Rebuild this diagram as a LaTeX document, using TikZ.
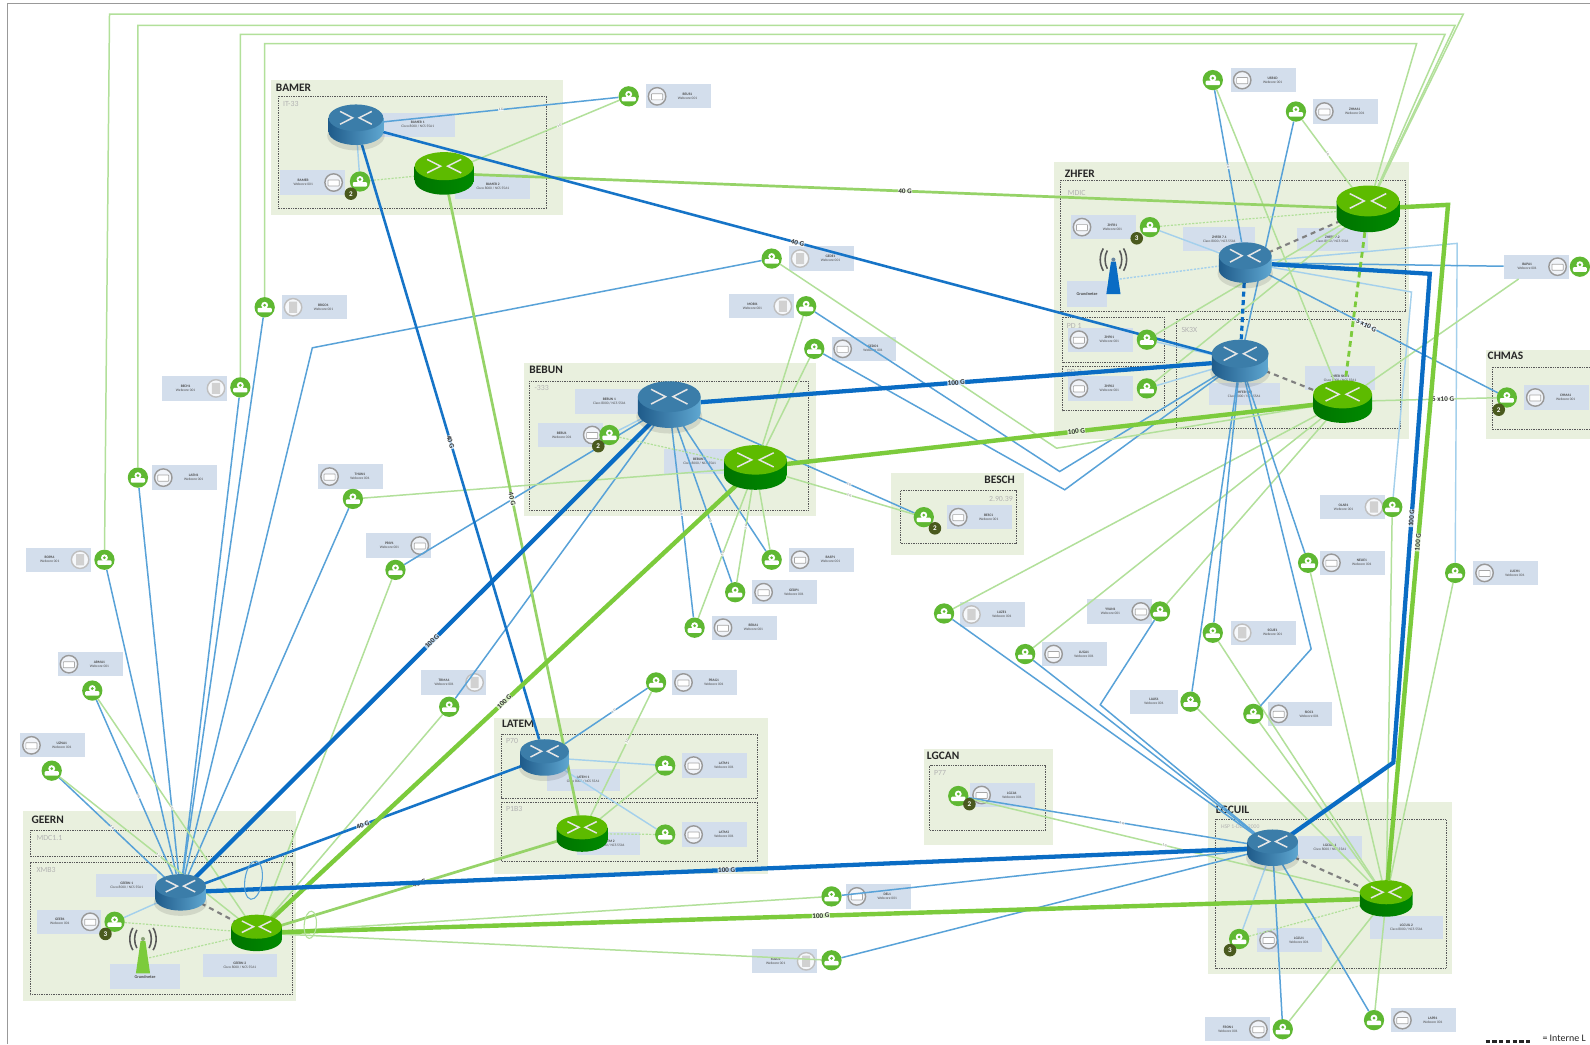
\documentclass[tikz,border=0pt]{standalone}
\usepackage{fontspec}
\setmainfont{Carlito}
\usetikzlibrary{shapes.geometric}
\pgfdeclarelayer{zones}
\pgfdeclarelayer{links}
\pgfsetlayers{zones,links,main}
\definecolor{zonegreen}{HTML}{E9F0DE}
\definecolor{boxblue}{HTML}{D3DEEC}
\definecolor{lnblue}{HTML}{58A2D8}
\definecolor{lnlblue}{HTML}{A4D0EC}
\definecolor{lnthick}{HTML}{0A6CC4}
\definecolor{lngreen}{HTML}{B2E09A}
\definecolor{lngmid}{HTML}{96D368}
\definecolor{lngthick}{HTML}{7CCB3C}
\definecolor{cloudg}{HTML}{5FB832}
\definecolor{badgec}{HTML}{4A5A1E}
\tikzset{
 x=0.05cm,y=-0.05cm,
 zoneout/.style={fill=zonegreen,draw=none},
 zonein/.style={draw=black!65,densely dotted,line width=1.4pt},
 zonetitle/.style={font=\bfseries\fontsize{16}{16}\selectfont,text=black!85,inner sep=0pt},
 zonesub/.style={font=\fontsize{11}{11}\selectfont,text=black!30,inner sep=0pt},
 cloudn/.style={circle,fill=cloudg,minimum size=1cm,inner sep=0pt},
 devbox/.style={fill=boxblue,inner sep=0pt},
 devtxt/.style={font=\fontsize{5}{5.6}\selectfont,text=black!70,align=center,inner sep=0pt},
 bthin/.style={draw=lnblue,line width=2.1pt},
 blite/.style={draw=lnlblue,line width=2pt},
 gthin/.style={draw=lngreen,line width=2.1pt},
 glite/.style={draw=lngreen,line width=1.7pt,densely dashed},
 bmid/.style={draw=lnthick!85!lnblue,line width=3.6pt},
 gmid/.style={draw=lngmid,line width=3.8pt},
 bthick/.style={draw=lnthick,line width=6pt},
 gthick/.style={draw=lngthick,line width=6.2pt},
 ddgrey/.style={draw=black!50,line width=3pt,dash pattern=on 7pt off 6pt},
 ddblue/.style={draw=lnthick,line width=4.5pt,dash pattern=on 7pt off 5pt},
 ddgreen/.style={draw=lngthick,line width=4pt,dash pattern=on 8pt off 6pt},
 elab/.style={fill=white,fill opacity=.7,text opacity=1,text=black!80,font=\bfseries\fontsize{10}{10}\selectfont,inner sep=.6pt},
 mini/.style={fill=white,fill opacity=.8,text opacity=1,text=black!60,font=\fontsize{4.5}{4.5}\selectfont,inner sep=.6pt},
 badge/.style={circle,fill=badgec,text=white,font=\bfseries\fontsize{10}{10}\selectfont,minimum size=.62cm,inner sep=0pt},
 rtrnode/.style={ellipse,inner sep=0pt},
}
% router: name x y w h type
\newcommand{\rtr}[6]{%
 \node[rtrnode,minimum width=#4*0.05cm,minimum height=#5*0.05cm] (#1) at (#2,#3) {};
 \begin{scope}[shift={(#2,#3)}]
 \pgfmathsetmacro\ra{#4/2}\pgfmathsetmacro\rb{#5*0.33}
 \pgfmathsetmacro\ty{-#5/2+\rb}\pgfmathsetmacro\by{#5/2-\rb}
 \ifx#6b
  \fill[black,opacity=.10] (0,{\by+4}) ellipse[x radius={\ra*1.05},y radius={\rb*1.1}];
  \shade[left color=rbl,right color=rbr] (-\ra,\ty) -- (-\ra,\by) arc[start angle=180,end angle=0,x radius=\ra,y radius=\rb] -- (\ra,\ty) -- cycle;
  \fill[rbt] (0,\ty) ellipse[x radius=\ra,y radius=\rb];
 \else
  \shade[left color=rgl,right color=rgr] (-\ra,\ty) -- (-\ra,\by) arc[start angle=180,end angle=0,x radius=\ra,y radius=\rb] -- (\ra,\ty) -- cycle;
  \fill[rgt] (0,\ty) ellipse[x radius=\ra,y radius=\rb];
 \fi
 \draw[white!80!gray,line width=2.1pt] ({-\ra*.58},{\ty-\rb*.48}) -- ({-\ra*.12},\ty) -- ({-\ra*.58},{\ty+\rb*.48});
 \draw[white!80!gray,line width=2.1pt] ({\ra*.58},{\ty-\rb*.48}) -- ({\ra*.12},\ty) -- ({\ra*.58},{\ty+\rb*.48});
 \end{scope}}
\definecolor{rbl}{HTML}{1F5B8A}\definecolor{rbr}{HTML}{5FA7D1}\definecolor{rbt}{HTML}{3B7DA9}
\definecolor{rgl}{HTML}{007400}\definecolor{rgr}{HTML}{008A00}\definecolor{rgt}{HTML}{5DBB00}
% router label box: name x1 y1 x2 y2 title
\newcommand{\rbox}[6]{%
 \begin{pgfonlayer}{zones}
 \node[devbox,minimum width={(#4-#2)*0.05cm},minimum height={(#5-#3)*0.05cm},devtxt] (#1) at ({(#2+#4)/2},{(#3+#5)/2}) {\textbf{#6}\\Cisco 8000 / NCS 55A1};
 \end{pgfonlayer}}
% cloud site: name cx cy boxcx boxcy iconside type title
\newcommand{\dev}[8]{%
 \node[cloudn] (#1) at (#2,#3) {};
 \fill[white] (#2,{#3-2}) circle[radius=3.4];
 \fill[cloudg] (#2,{#3-2}) circle[radius=1.5];
 \fill[white,rounded corners=1.5pt] ({#2-7},{#3+.5}) rectangle ({#2+7},{#3+5});
 \begin{pgfonlayer}{zones}
 \node[devbox,minimum width=3.2cm,minimum height=1.2cm] (#1b) at (#4,#5) {};
 \node[devtxt] (#1t) at ({#4-#6*9},#5) {\textbf{#8}\\Webcore 001};
 \ifx#7d
  \draw[black!25,line width=2pt,fill=white!80!boxblue] ({#4+#6*21},#5) circle[radius=8.6];
  \fill[black!18,rounded corners=.6pt] ({#4+#6*21-4},{#5-5.5}) rectangle ({#4+#6*21+4},{#5+5.5});
 \else
  \draw[black!40,line width=2pt,fill=white!65!boxblue] ({#4+#6*21},#5) circle[radius=8.6];
  \draw[black!35,line width=1pt,fill=white,rounded corners=.8pt] ({#4+#6*21-5.5},{#5-2.5}) rectangle ({#4+#6*21+5.5},{#5+3.5});
 \fi
 \end{pgfonlayer}}
% antenna: name x topy colour
\newcommand{\antenna}[4]{%
 \node[inner sep=0pt,minimum size=.6cm] (#1) at (#2,{#3+22}) {};
 \fill[#4] ({#2-2.4},{#3+4}) -- ({#2+2.4},{#3+4}) -- ({#2+7},{#3+36}) -- ({#2-7},{#3+36}) -- cycle;
 \fill[#4!50!black!60] (#2,{#3+2}) circle[radius=2];
 \foreach \s in {-1,1}{
  \draw[black!65,line width=2.2pt] ({#2+\s*6},{#3-7}) .. controls ({#2+\s*9},{#3-2}) and ({#2+\s*9},{#3+6}) .. ({#2+\s*6},{#3+11});
  \draw[black!65,line width=2.2pt] ({#2+\s*10},{#3-9}) .. controls ({#2+\s*14},{#3-2}) and ({#2+\s*14},{#3+6}) .. ({#2+\s*10},{#3+13});
 }}
\begin{document}
\begin{tikzpicture}
\useasboundingbox (0,0) rectangle (1568,1029.6);
\begin{pgfonlayer}{zones}
 \fill[white] (0,0) rectangle (1568,1029.6);
 \draw[black!40,line width=1.4pt] (7,1029.6) -- (7,3) -- (1568,3);
 % outer zones
 \fill[zoneout] (267,79) rectangle (555,212);
 \fill[zoneout] (517,358) rectangle (805,509);
 \fill[zoneout] (1039,160) rectangle (1389,433);
 \fill[zoneout] (1465,345) rectangle (1568,433);
 \fill[zoneout] (879,466) rectangle (1010,547);
 \fill[zoneout] (487,708) rectangle (757,862);
 \fill[zoneout] (911,739) rectangle (1038,833);
 \fill[zoneout] (23,800) rectangle (292,987);
 \fill[zoneout] (1191,791) rectangle (1432,961);
 % inner zones
 \draw[zonein] (275,95) rectangle (539,206);
 \draw[zonein] (522,376) rectangle (797,503);
 \draw[zonein] (1046,178) rectangle (1386,307);
 \draw[zonein] (1048,313) rectangle (1148,357);
 \draw[zonein] (1048,361) rectangle (1148,405);
 \draw[zonein] (1160,315) rectangle (1381,423);
 \draw[zonein] (1568,362) -- (1472,362) -- (1472,424) -- (1568,424);
 \draw[zonein] (888,484) rectangle (1002,536);
 \draw[zonein] (495,724) rectangle (747,787);
 \draw[zonein] (495,791) rectangle (747,850);
 \draw[zonein] (917,755) rectangle (1031,819);
 \draw[zonein] (30,819) rectangle (288,845);
 \draw[zonein] (30,851) rectangle (288,981);
 \draw[zonein] (1199,808) rectangle (1426,955);
 % titles
 \node[zonetitle,anchor=west] (tbam) at (272,87) {BAMER};
 \node[zonetitle,anchor=west] (tbeb) at (522,365) {BEBUN};
 \node[zonetitle,anchor=west] (tzhf) at (1050,171) {ZHFER};
 \node[zonetitle,anchor=west] (tchm) at (1467,351) {CHMAS};
 \node[zonetitle,anchor=east] (tbes) at (1001,473) {BESCH};
 \node[zonetitle,anchor=west] (tlat) at (495,714) {LATEM};
 \node[zonetitle,anchor=west] (tlgc) at (914,745) {LGCAN};
 \node[zonetitle,anchor=west] (tgee) at (31,808) {GEERN};
 \node[zonetitle,anchor=west] (tlgu) at (1199,799) {LGCUIL};
 \node[zonesub,anchor=west] (sbam) at (279,103) {IT-33};
 \node[zonesub,anchor=west] (sbeb) at (527,383) {-333};
 \node[zonesub,anchor=west] (szh1) at (1053,190) {MDIC};
 \node[zonesub,anchor=west] (szh2) at (1052,321) {PD 1};
 \node[zonesub,anchor=west] (szh3) at (1052,367) {PD 2};
 \node[zonesub,anchor=west] (szh4) at (1165,325) {SK3X};
 \node[zonesub,anchor=east] (sbes) at (999,492) {2.90.39};
 \node[zonesub,anchor=west] (slt1) at (499,731) {P70};
 \node[zonesub,anchor=west] (slt2) at (499,798) {P1B3};
 \node[zonesub,anchor=west] (slg1) at (921,762) {P77};
 \node[zonesub,anchor=west] (sge1) at (36,826) {MDC1.1};
 \node[zonesub,anchor=west] (sge2) at (36,858) {XMB3};
 \node[zonesub,anchor=west,font=\fontsize{8}{8}\selectfont] (slg2) at (1204,815) {HSP 1-DDC-2000};
\end{pgfonlayer}
% routers
\rtr{bamA}{351}{123}{54}{40}{b}
\rtr{bamB}{438}{171}{58}{42}{g}
\rtr{zhA}{1228}{259}{52}{40}{b}
\rtr{zhB}{1349}{206}{62}{46}{g}
\rtr{zhC}{1223}{356}{56}{42}{b}
\rtr{zhD}{1324}{396}{58}{42}{g}
\rtr{bebA}{660}{399}{62}{46}{b}
\rtr{bebB}{745}{461}{62}{44}{g}
\rtr{geeA}{178}{880}{50}{36}{b}
\rtr{geeB}{253}{920}{50}{36}{g}
\rtr{latA}{537}{747}{48}{36}{b}
\rtr{latB}{574}{822}{50}{36}{g}
\rtr{lgcA}{1255}{836}{50}{36}{b}
\rtr{lgcB}{1367}{886}{52}{36}{g}
% router labels
\rbox{bamAl}{375}{111}{449}{135}{BAMER 1}
\rbox{bamBl}{449}{172}{523}{196}{BAMER 2}
\rbox{zhAl}{1167}{224}{1238}{248}{ZHFER 7.1}
\rbox{zhBl}{1279}{225}{1349}{248}{ZHFER 7.2}
\rbox{zhCl}{1192}{378}{1262}{399}{ZHFER SK3}
\rbox{zhDl}{1287}{361}{1356}{385}{ZHFER SK3.1}
\rbox{bebAl}{567}{384}{635}{408}{BEBUN 1}
\rbox{bebBl}{655}{443}{725}{467}{BEBUN 2}
\rbox{geeAl}{95}{862}{155}{885}{GEERN 1}
\rbox{geeBl}{200}{941}{273}{963}{GEERN 2}
\rbox{latAl}{539}{758}{611}{780}{LATEM 1}
\rbox{latBl}{569}{820}{631}{843}{LATEM 2}
\rbox{lgcAl}{1280}{824}{1343}{847}{LGCUIL 1}
\rbox{lgcBl}{1351}{903}{1423}{926}{LGCUIL 2}
% sites
\dev{a01}{620}{95}{669}{95}{-1}{s}{BEUS1}
\dev{a02}{1196}{79}{1246}{79}{-1}{s}{USB1D}
\dev{a03}{1278}{110}{1327}{110}{-1}{s}{ZHMA1}
\dev{a04}{761}{255}{810}{255}{-1}{d}{GEDE1}
\dev{a05}{795}{302}{751}{302}{1}{d}{MOBI1}
\dev{a06}{803}{344}{852}{344}{-1}{s}{GEDO1}
\dev{a07}{261}{303}{310}{303}{-1}{d}{BRGO1}
\dev{a08}{237}{382}{192}{383}{1}{d}{BECH1}
\dev{a09}{136}{471}{182}{471}{-1}{s}{LAEN1}
\dev{a10}{348}{492}{346}{470}{-1}{s}{THUN1}
\dev{a11}{390}{562}{393}{538}{1}{s}{PRIV1}
\dev{a12}{103}{552}{58}{552}{1}{d}{BOPA1}
\dev{a13}{91}{681}{89}{655}{-1}{s}{ARMA1}
\dev{a14}{51}{760}{52}{735}{-1}{s}{UZNA1}
\dev{a15}{443}{697}{447}{673}{1}{d}{TRMA1}
\dev{a16}{647}{673}{695}{673}{-1}{s}{PRAG1}
\dev{a17}{761}{552}{810}{552}{-1}{s}{BASP1}
\dev{a18}{725}{584}{774}{584}{-1}{s}{GEDP1}
\dev{a19}{685}{619}{734}{619}{-1}{s}{BEKA1}
\dev{a20}{931}{605}{979}{606}{-1}{d}{LUZE1}
\dev{a21}{1011}{645}{1060}{645}{-1}{s}{LUGA1}
\dev{a22}{1144}{603}{1104}{603}{1}{s}{YVAN1}
\dev{a23}{1196}{624}{1246}{624}{-1}{d}{SGUE1}
\dev{a25}{1236}{704}{1282}{704}{-1}{s}{SIOC1}
\dev{a26}{1290}{555}{1334}{555}{-1}{s}{NEUE1}
\dev{a27}{1373}{500}{1334}{500}{1}{d}{OLAR1}
\dev{a28}{1435}{565}{1485}{565}{-1}{s}{LUCH1}
\dev{a29}{1558}{263}{1515}{263}{1}{s}{BAPA1}
\dev{a30}{820}{884}{866}{884}{-1}{s}{DEL1}
\dev{a31}{820}{947}{774}{948}{1}{d}{SOLO1}
\dev{a32}{1265}{1015}{1220}{1015}{1}{s}{FRON1}
\dev{a33}{1355}{1006}{1404}{1006}{-1}{s}{LAPR1}
% cloud with plain label box
\node[cloudn] (a24) at (1174,692) {};
\fill[white] (1174,690) circle[radius=3.4];
\fill[cloudg] (1174,690) circle[radius=1.5];
\fill[white,rounded corners=1.5pt] (1167,692.5) rectangle (1181,697);
\begin{pgfonlayer}{zones}
 \node[devbox,devtxt,minimum width=2.35cm,minimum height=1.2cm] (a24b) at (1138,692) {\textbf{LAUS1}\\Webcore 001};
\end{pgfonlayer}
% in-zone sites
\dev{zbam}{355}{179}{308}{180}{1}{s}{BAMER}
\dev{zzha}{1134}{224}{1088}{224}{-1}{s}{ZHFR1}
\dev{zzhb}{1131}{335}{1085}{335}{-1}{s}{ZHP01}
\dev{zzhc}{1131}{383}{1085}{383}{-1}{s}{ZHP02}
\dev{zchm}{1486}{392}{1535}{392}{-1}{s}{CHMA1}
\dev{zbeb}{601}{429}{563}{429}{1}{s}{BEBU1}
\dev{zbes}{911}{510}{966}{510}{-1}{s}{BESC1}
\dev{zlta}{656}{755}{705}{755}{-1}{s}{LATM1}
\dev{zltb}{656}{823}{705}{823}{-1}{s}{LATM2}
\dev{zlgc}{945}{785}{989}{784}{-1}{s}{LGCA1}
\dev{zgee}{113}{909}{68}{909}{1}{s}{GEER1}
\dev{zlgu}{1222}{926}{1272}{927}{-1}{s}{LGCU1}
% badges
\node[badge] (b1) at (346,191) {2};
\node[badge] (b2) at (1121,235) {3};
\node[badge] (b3) at (1478,404) {2};
\node[badge] (b4) at (590,440) {2};
\node[badge] (b5) at (922,521) {2};
\node[badge] (b6) at (956,793) {2};
\node[badge] (b7) at (104,921) {3};
\node[badge] (b8) at (1213,937) {3};
% antennas
\antenna{antZ}{1098}{254}{lnthick}
\antenna{antG}{141}{924}{lngthick}
\begin{pgfonlayer}{zones}
 \node[devbox,devtxt,minimum width=1.95cm,minimum height=1.25cm] (antZl) at (1072,290) {\textbf{\fontsize{6}{6}\selectfont Grundnetze}};
 \node[devbox,devtxt,minimum width=3.5cm,minimum height=1.2cm] (antGl) at (143,963) {\textbf{\fontsize{6}{6}\selectfont Grundnetze}};
\end{pgfonlayer}
% connectors
\begin{pgfonlayer}{links}
 % long green over the top
 \draw[gthin] (a12) -- (108,14) -- (1443,14) -- (zhB);
 \draw[gthin] (a09) -- (136,25) -- (1435,25) -- (zhB);
 \draw[gthin] (a08) -- (237,34) -- (1425,34) -- (zhB);
 \draw[gthin] (a07) -- (261,43) -- (1397,43) -- (zhB);
 % thin blue to GEERN
 \draw[bthin] (a12) -- (geeA);
 \draw[bthin] (a09) -- (geeA);
 \draw[bthin] (a08) -- (geeA);
 \draw[bthin] (a07) -- (geeA);
 \draw[bthin] (a10) -- (geeA);
 \draw[bthin] (a13) -- node[mini,sloped,pos=.55]{1 G} (geeA);
 \draw[bthin] (a14) -- node[mini,sloped,pos=.5]{1 G} (geeA);
 \draw[bthin] (a04) -- (308,343) -- (geeA);
 % thin green to GEERN
 \draw[gthin] (a13) -- node[mini,sloped,pos=.5]{1 G} (geeB);
 \draw[gthin] (a14) -- node[mini,sloped,pos=.55]{1 G} (geeB);
 \draw[gthin] (a11) -- (geeB);
 \draw[gthin] (a15) -- (geeB);
 \draw[gthin] (a30) -- (geeB);
 \draw[gthin] (a31) -- (geeB);
 \draw[glite] (zgee) -- (geeB);
 \draw[blite] (zgee) -- (geeA);
 \draw[glite] (antG) -- (geeB);
 % BEBUN
 \draw[bthin] (a11) -- (bebA);
 \draw[bthin] (a15) -- (bebA);
 \draw[bthin] (a17) -- (bebA);
 \draw[bthin] (a18) -- node[mini,sloped,pos=.4]{1 G} (bebA);
 \draw[bthin] (a19) -- node[mini,sloped,pos=.55]{1 G} (bebA);
 \draw[bthin] (zbes) -- node[mini,sloped,pos=.3]{1 G} (bebA);
 \draw[blite] (zbeb) -- (bebA);
 \draw[glite] (zbeb) -- (bebB);
 \draw[gthin] (a10) -- (bebB);
 \draw[gthin] (a05) -- (bebB);
 \draw[gthin] (a06) -- (bebB);
 \draw[gthin] (a17) -- (bebB);
 \draw[gthin] (a18) -- node[mini,sloped,pos=.6]{1 G} (bebB);
 \draw[gthin] (a19) -- node[mini,sloped,pos=.5]{1 G} (bebB);
 \draw[gthin] (zbes) -- node[mini,sloped,pos=.5]{1 G} (bebB);
 % BAMER
 \draw[bthin] (a01) -- node[mini,sloped,pos=.5]{1 G} (bamA);
 \draw[gthin] (a01) -- node[mini,sloped,pos=.4]{1 G} (bamB);
 \draw[blite] (zbam) -- (bamA);
 \draw[glite] (zbam) -- (bamB);
 % LATEM
 \draw[bthin] (a16) -- node[mini,sloped,pos=.4]{1 G} (latA);
 \draw[gthin] (a16) -- node[mini,sloped,pos=.4]{1 G} (latB);
 \draw[blite] (zlta) -- (latA);
 \draw[gthin] (zlta) -- (latB);
 \draw[blite] (zltb) -- (latA);
 \draw[glite] (zltb) -- (latB);
 % LGCAN, LGCUIL
 \draw[bthin] (zlgc) -- node[mini,sloped,pos=.55]{1 G} (lgcA);
 \draw[gthin] (zlgc) -- node[mini,sloped,pos=.5]{1 G} (lgcB);
 \draw[blite] (zlgu) -- (lgcA);
 \draw[glite] (zlgu) -- (lgcB);
 \draw[bthin] (a30) -- (lgcA);
 \draw[bthin] (a31) -- (lgcA);
 \draw[bthin] (a32) -- (lgcA);
 \draw[gthin] (a32) -- (lgcB);
 \draw[bthin] (a33) -- (lgcA);
 \draw[gthin] (a33) -- (lgcB);
 \draw[bthin] (a20) -- (lgcA);
 \draw[bthin] (a21) -- (lgcA);
 \draw[bthin] (a22) -- (1085,695) -- (lgcA);
 \draw[gthin] (a20) -- (zhD);
 \draw[gthin] (a21) -- (zhD);
 \draw[gthin] (a22) -- (zhD);
 \draw[gthin] (a23) -- (lgcB);
 \draw[gthin] (a24) -- (lgcB);
 \draw[gthin] (a25) -- (lgcB);
 \draw[gthin] (a26) -- (lgcB);
 \draw[gthin] (a27) -- (lgcB);
 \draw[gthin] (a28) -- (lgcB);
 % ZHFER
 \draw[bthin] (a23) -- (zhC);
 \draw[bthin] (a24) -- (zhC);
 \draw[bthin] (a25) -- (1293,640) -- (zhC);
 \draw[bthin] (a26) -- (zhC);
 \draw[blite] (a27) -- (1392,288) -- (zhA);
 \draw[blite] (a28) -- (1437,240) -- (zhA);
 \draw[bthin] (a29b) -- (zhA);
 \draw[gthin] (a29b) -- (zhD);
 \draw[bthin] (a02) -- node[mini,sloped,pos=.5]{1 G} (zhA);
 \draw[gthin] (a02) -- (zhD);
 \draw[bthin] (a03) -- node[mini,sloped,pos=.6]{1 G} (zhC);
 \draw[gthin] (a03) -- node[mini,sloped,pos=.5]{1 G} (zhB);
 \draw[bthin] (a05) -- (1045,465) -- (zhC);
 \draw[bthin] (a06) -- (1050,483) -- (zhC);
 \draw[gthin] (a04) -- (1042,442) -- (zhD);
 \draw[blite] (zzha) -- (zhA);
 \draw[glite] (zzha) -- (zhB);
 \draw[blite] (zzhb) -- (zhC);
 \draw[gthin] (zzhb) -- (zhB);
 \draw[blite] (zzhc) -- (zhC);
 \draw[gthin] (zzhc) -- (zhB);
 \draw[blite,densely dashed] (antZ) -- (zhA);
 \draw[bthin] (zchm) -- node[elab,sloped,pos=.57]{5 x10 G} (zhA);
 \draw[gthin] (zchm) -- node[elab,sloped,pos=.43]{5 x10 G} (zhD);
 % redundancy links
 \draw[ddgrey] (zhA) -- (zhB);
 \draw[ddblue] (zhA) -- (zhC);
 \draw[ddgreen] (zhB) -- (zhD);
 \draw[ddgrey] (zhC) -- (zhD);
 \draw[ddgrey] (geeA) -- (geeB);
 \draw[ddgrey] (lgcA) -- (lgcB);
 % 40 G
 \draw[gmid] (bamB) -- node[elab,pos=.5,sloped]{40 G} (zhB);
 \draw[bmid] (bamA) -- node[elab,pos=.5,sloped]{40 G} (zhC);
 \draw[bmid] (bamA) -- node[elab,pos=.5,sloped]{40 G} (latA);
 \draw[gmid] (bamB) -- node[elab,pos=.49,sloped]{40 G} (latB);
 \draw[bmid] (latA) -- node[elab,pos=.5,sloped]{40 G} (geeA);
 \draw[gmid] (latB) -- node[elab,pos=.5,sloped]{40 G} (geeB);
 % 100 G
 \draw[bthick] (geeA) -- node[elab,pos=.52,sloped]{100 G} (bebA);
 \draw[gthick] (geeB) -- node[elab,pos=.5,sloped]{100 G} (bebB);
 \draw[bthick] (bebA) -- node[elab,pos=.5,sloped]{100 G} (zhC);
 \draw[gthick] (bebB) -- node[elab,pos=.55,sloped]{100 G} (zhD);
 \draw[bthick] (geeA) -- node[elab,pos=.5,sloped]{100 G} (lgcA);
 \draw[gthick] (geeB) -- node[elab,pos=.5,sloped]{100 G} (lgcB);
 \draw[bthick,line join=miter] (zhA) -- (1410,270) -- node[elab,pos=.5,sloped]{100 G} (1374,752) -- (lgcA);
 \draw[gthick,line join=miter] (zhB) -- (1428,202) -- node[elab,pos=.5,sloped]{100 G} (lgcB);
 % bundle rings
 \node[ellipse,draw=lnblue,line width=1.5pt,minimum width=.85cm,minimum height=1.9cm,inner sep=0pt,rotate=-8] (ringA) at (250,868) {};
 \node[ellipse,draw=lngreen,line width=1.5pt,minimum width=.6cm,minimum height=1.35cm,inner sep=0pt,rotate=-5] (ringB) at (306,912) {};
\end{pgfonlayer}
% legend
\coordinate (lega) at (1465,1027);
\coordinate (legb) at (1511,1027);
\draw[black!85,line width=3.4pt,dash pattern=on 6pt off 3.5pt] (lega) -- (legb);
\node[anchor=west,font=\fontsize{14}{14}\selectfont,text=black!85,inner sep=0pt] (legt) at (1521,1024) {= Interne L};
\end{tikzpicture}
\end{document}
